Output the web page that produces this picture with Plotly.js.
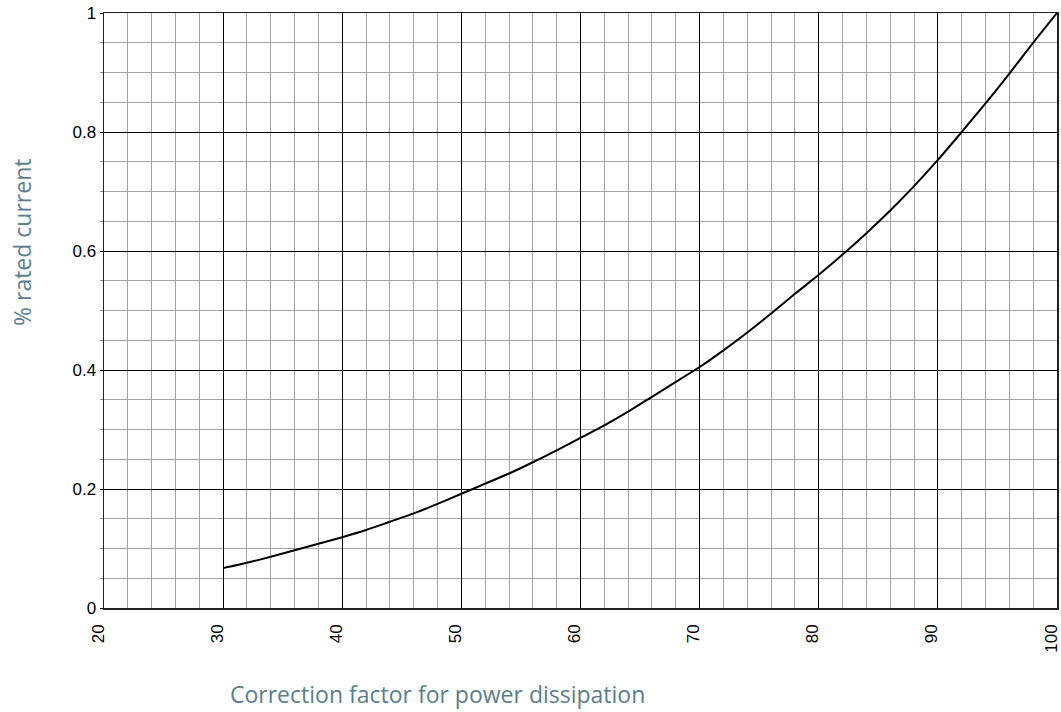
<!DOCTYPE html>
<html>
<head>
<meta charset="utf-8">
<script src="https://cdn.plot.ly/plotly-3.0.1.min.js"></script>
<style>html,body{margin:0;padding:0;background:#fff;}#chart{width:1061px;height:712px;}</style>
</head>
<body>
<div id="chart"></div>
<script>
const correctionFactor = [30,32,34,36,38,40,42,44,46,48,50,52,54,56,58,60,62,64,66,68,70,72,74,76,78,80,82,84,86,88,90,92,94,96,98,100];
const ratedCurrent = [0.067,0.076,0.086,0.097,0.108,0.119,0.131,0.145,0.159,0.175,0.192,0.209,0.226,0.245,0.265,0.286,0.307,0.330,0.355,0.380,0.405,0.433,0.463,0.495,0.528,0.560,0.594,0.630,0.668,0.709,0.753,0.800,0.848,0.898,0.950,1.0];
const xTicks = [20,30,40,50,60,70,80,90,100];
const yTicks = [0,0.2,0.4,0.6,0.8,1];
const yTickText = ['0','0.2','0.4','0.6','0.8','1'];

const titleColor = '#5b7e8d';
const titleFont = {family: '"Open Sans", "Noto Sans", sans-serif', size: 23, color: titleColor};
const tickFont = {family: '"Liberation Sans", Arial, sans-serif', size: 17, color: '#000'};

Plotly.newPlot('chart', [{
  x: correctionFactor,
  y: ratedCurrent,
  type: 'scatter',
  mode: 'lines',
  line: {color: '#000', width: 2, shape: 'spline', smoothing: 0.6},
  hoverinfo: 'skip'
}], {
  width: 1061, height: 712,
  margin: {l: 104, r: 4, t: 13, b: 104},
  paper_bgcolor: '#fff', plot_bgcolor: '#fff',
  showlegend: false,
  font: tickFont,
  xaxis: {
    range: [20, 100],
    tickvals: xTicks,
    ticktext: xTicks.map(String),
    tickangle: -90,
    ticks: 'outside', ticklen: 8, tickcolor: 'rgba(0,0,0,0)',
    ticklabeloverflow: 'allow',
    ticklabelshift: -6,
    showgrid: true, gridcolor: '#000', gridwidth: 1,
    minor: {dtick: 2, tick0: 20, showgrid: true, gridcolor: '#a3a3a3', gridwidth: 1, ticks: ''},
    showline: true, linecolor: '#222', linewidth: 1.5, mirror: true,
    zeroline: false,
    tickfont: tickFont,
    fixedrange: true
  },
  yaxis: {
    range: [0, 1],
    tickvals: yTicks,
    ticktext: yTickText,
    ticks: 'outside', ticklen: 3, tickcolor: '#000',
    ticklabeloverflow: 'allow',
    showgrid: true, gridcolor: '#000', gridwidth: 1,
    minor: {dtick: 0.05, tick0: 0, showgrid: true, gridcolor: '#a3a3a3', gridwidth: 1, ticks: 'outside', ticklen: 3, tickcolor: '#888'},
    showline: true, linecolor: '#222', linewidth: 1.5, mirror: true,
    zeroline: false,
    tickfont: tickFont,
    fixedrange: true
  },
  annotations: [
    {text: 'Correction factor for power dissipation', xref: 'paper', yref: 'paper',
     x: (437 - 104) / 953, y: -(694 - 608) / 595, xanchor: 'center', yanchor: 'middle',
     showarrow: false, font: titleFont},
    {text: '% rated current', xref: 'paper', yref: 'paper',
     x: -(104 - 22) / 953, y: (608 - 243) / 595, xanchor: 'center', yanchor: 'middle',
     textangle: -90, showarrow: false, font: titleFont}
  ]
}, {displayModeBar: false, staticPlot: true});
</script>
</body>
</html>
